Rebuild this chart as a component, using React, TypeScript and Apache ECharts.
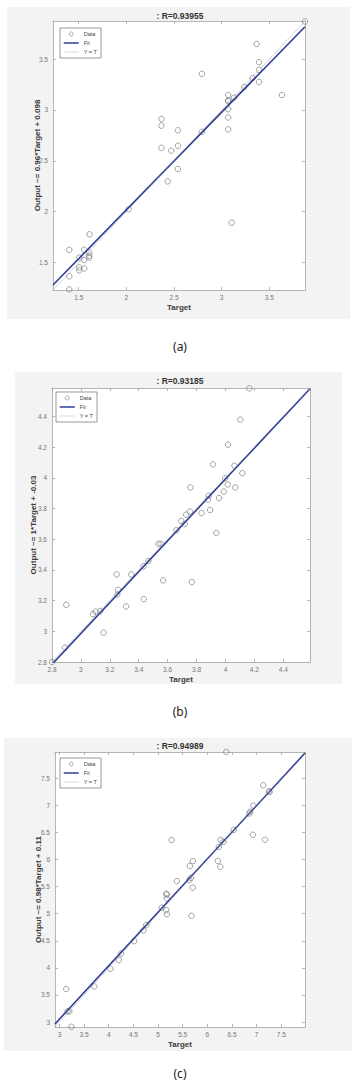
import React, { useEffect, useRef } from "react";
import * as echarts from "echarts";

// ---------- data ----------
const targetA = [3.875, 3.367, 3.392, 3.392, 3.325, 3.392, 3.237, 2.793, 3.633, 3.069, 3.069, 3.069, 3.131, 3.069, 3.069, 3.069, 2.792, 2.368, 2.368, 2.541, 2.368, 2.541, 2.471, 2.541, 2.434, 2.024, 3.105, 1.613, 1.401, 1.558, 1.61, 1.61, 1.61, 1.506, 1.558, 1.506, 1.506, 1.558, 1.401, 1.401];
const outputA = [3.87, 3.65, 3.47, 3.395, 3.314, 3.275, 3.227, 3.356, 3.147, 3.147, 3.095, 3.085, 3.122, 3.008, 2.926, 2.81, 2.786, 2.912, 2.846, 2.8, 2.628, 2.648, 2.6, 2.42, 2.298, 2.024, 1.892, 1.777, 1.625, 1.625, 1.598, 1.566, 1.549, 1.549, 1.525, 1.452, 1.423, 1.442, 1.365, 1.236];

const targetB = [4.165, 4.103, 4.018, 3.914, 4.062, 4.117, 3.998, 4.015, 4.068, 3.758, 3.988, 3.884, 3.956, 3.88, 3.894, 3.755, 3.835, 3.728, 3.694, 3.719, 3.937, 3.661, 3.537, 3.553, 3.467, 3.434, 3.348, 3.247, 3.569, 3.767, 3.257, 3.252, 3.435, 3.313, 2.899, 3.083, 3.102, 3.134, 3.157, 2.89, 2.8];
const outputB = [4.583, 4.379, 4.216, 4.087, 4.078, 4.03, 3.997, 3.957, 3.937, 3.937, 3.91, 3.883, 3.868, 3.858, 3.79, 3.78, 3.77, 3.76, 3.719, 3.699, 3.641, 3.659, 3.57, 3.57, 3.458, 3.424, 3.37, 3.37, 3.332, 3.321, 3.27, 3.24, 3.21, 3.162, 3.172, 3.112, 3.128, 3.132, 2.991, 2.893, 2.8];

const targetC = [6.383, 7.134, 7.25, 7.262, 6.934, 6.87, 6.852, 6.923, 7.17, 6.532, 6.268, 6.328, 6.233, 6.213, 6.262, 5.273, 5.706, 5.645, 5.666, 5.635, 5.381, 5.703, 5.168, 5.178, 5.175, 5.075, 5.168, 5.178, 5.678, 4.76, 4.705, 4.516, 4.25, 4.204, 4.032, 3.707, 3.138, 3.165, 3.2, 3.244];
const outputC = [7.98, 7.366, 7.258, 7.242, 6.99, 6.879, 6.847, 6.454, 6.362, 6.543, 6.36, 6.325, 6.23, 5.972, 5.864, 6.357, 5.969, 5.877, 5.66, 5.62, 5.6, 5.48, 5.366, 5.35, 5.28, 5.11, 5.065, 4.991, 4.96, 4.79, 4.69, 4.494, 4.263, 4.145, 3.983, 3.657, 3.61, 3.198, 3.2, 2.915];

const ticksA = [1.5, 2, 2.5, 3, 3.5];
const ticksB = [2.8, 3, 3.2, 3.4, 3.6, 3.8, 4, 4.2, 4.4];
const ticksC = [3, 3.5, 4, 4.5, 5, 5.5, 6, 6.5, 7, 7.5];

const rangeA = [1.23, 3.875];
const rangeB = [2.8, 4.585];
const rangeC = [2.91, 7.98];

const fitA = [0.96, 0.098];
const fitB = [1.006, -0.032];
const fitC = [0.985, 0.1];

const titles = [": R=0.93955", ": R=0.93185", ": R=0.94989"];
const yNames = [
  "Output ~= 0.96*Target + 0.098",
  "Output ~= 1*Target + -0.03",
  "Output ~= 0.98*Target + 0.11",
];
const xName = "Target";
const captions = ["(a)", "(b)", "(c)"];

// ---------- layout ----------
const panels = [
  { t: targetA, o: outputA, ticks: ticksA, range: rangeA, fit: fitA,
    bg: [7, 7, 343, 312], grid: { left: 53, top: 21, width: 252, height: 269 },
    legend: { left: 60, top: 28 }, titleTop: 11, captionY: 346, yGap: 12 },
  { t: targetB, o: outputB, ticks: ticksB, range: rangeB, fit: fitB,
    bg: [15, 372, 327, 312], grid: { left: 52, top: 388, width: 258, height: 274 },
    legend: { left: 56, top: 392 }, titleTop: 376, captionY: 711, yGap: 15 },
  { t: targetC, o: outputC, ticks: ticksC, range: rangeC, fit: fitC,
    bg: [4, 738, 348, 313], grid: { left: 55, top: 752, width: 250, height: 275 },
    legend: { left: 60, top: 758 }, titleTop: 741, captionY: 1073, yGap: 13 },
];

const FONT = "Liberation Sans, Arial, sans-serif";
const AXIS_COLOR = "#a3a3a3";
const LABEL_COLOR = "#757575";
const FIT_COLOR = "#2e3d98";
const CIRCLE_COLOR = "#6e6e6e";

function buildOption() {
  const grid: any[] = [];
  const xAxis: any[] = [];
  const yAxis: any[] = [];
  const series: any[] = [];
  const legend: any[] = [];
  const title: any[] = [];
  const graphic: any[] = [];

  panels.forEach((p, i) => {
    grid.push({ ...p.grid, show: true, backgroundColor: "#ffffff", borderWidth: 0 });
    const common = {
      type: "value",
      gridIndex: i,
      min: p.range[0],
      max: p.range[1],
      splitLine: { show: false },
      axisLine: { show: true, lineStyle: { color: AXIS_COLOR, width: 0.8 } },
      axisTick: { show: true, inside: true, length: 3, customValues: p.ticks, lineStyle: { color: AXIS_COLOR, width: 0.8 } },
    };
    xAxis.push({
      ...common,
      position: "bottom",
      axisLabel: { customValues: p.ticks, fontSize: 6.5, color: LABEL_COLOR, margin: 4, fontFamily: FONT, formatter: (v: number) => String(v) },
      name: xName,
      nameLocation: "middle",
      nameGap: 13.5,
      nameMoveOverlap: false,
      nameTextStyle: { fontSize: 8, fontWeight: "bold", color: "#3a3a3a", fontFamily: FONT },
    });
    xAxis.push({ ...common, position: "top", axisLabel: { show: false } });
    yAxis.push({
      ...common,
      position: "left",
      axisLabel: { customValues: p.ticks, fontSize: 6.5, color: LABEL_COLOR, margin: 5, fontFamily: FONT, formatter: (v: number) => String(v) },
      name: yNames[i],
      nameLocation: "middle",
      nameGap: p.yGap,
      nameMoveOverlap: false,
      nameRotate: 90,
      nameTextStyle: { fontSize: 8, fontWeight: "bold", color: "#3a3a3a", fontFamily: FONT },
    });
    yAxis.push({ ...common, position: "right", axisLabel: { show: false } });

    const lo = p.range[0];
    const hi = p.range[1];
    series.push({
      type: "line",
      name: "Fit",
      xAxisIndex: 2 * i,
      yAxisIndex: 2 * i,
      symbol: "none",
      data: [[lo, p.fit[0] * lo + p.fit[1]], [hi, p.fit[0] * hi + p.fit[1]]],
      lineStyle: { color: FIT_COLOR, width: 1.6 },
      itemStyle: { color: FIT_COLOR },
      z: 3,
    });
    series.push({
      type: "line",
      name: "Y = T",
      xAxisIndex: 2 * i,
      yAxisIndex: 2 * i,
      symbol: "none",
      data: [[lo, lo], [hi, hi]],
      lineStyle: { color: "#9a9a9a", width: 0.8, type: "dotted" },
      itemStyle: { color: "#9a9a9a" },
      z: 3,
    });
    series.push({
      type: "scatter",
      name: "Data",
      xAxisIndex: 2 * i,
      yAxisIndex: 2 * i,
      symbol: "circle",
      symbolSize: 5.5,
      clip: false,
      data: p.t.map((t, k) => [t, p.o[k]]),
      itemStyle: { color: "rgba(0,0,0,0)", borderColor: CIRCLE_COLOR, borderWidth: 0.8 },
      z: 2,
    });

    legend.push({
      orient: "vertical",
      left: p.legend.left,
      top: p.legend.top,
      data: [
        { name: "Data", icon: "circle", itemStyle: { color: "rgba(0,0,0,0)", borderColor: CIRCLE_COLOR, borderWidth: 0.7 } },
        { name: "Fit", itemStyle: { opacity: 0 }, lineStyle: { color: FIT_COLOR, width: 1.5 } },
        { name: "Y = T", itemStyle: { opacity: 0 }, lineStyle: { color: "#9a9a9a", width: 0.7, type: "dotted" } },
      ],
      selectedMode: false,
      itemWidth: 15,
      itemHeight: 4,
      itemGap: 3,
      padding: [3, 4, 3, 3],
      borderColor: "#555",
      borderWidth: 0.6,
      backgroundColor: "#ffffff",
      textStyle: { fontSize: 5.5, color: "#444", fontFamily: FONT },
    });

    title.push({
      text: titles[i],
      left: "center",
      top: p.titleTop,
      padding: 0,
      textStyle: { fontSize: 8.5, fontWeight: "bold", color: "#333", fontFamily: FONT },
    });

    graphic.push({
      type: "rect",
      z: -10,
      silent: true,
      shape: { x: p.bg[0], y: p.bg[1], width: p.bg[2], height: p.bg[3] },
      style: { fill: "#f3f3f3" },
    });
    graphic.push({
      type: "text",
      x: 180,
      y: p.captionY,
      silent: true,
      style: {
        text: captions[i],
        fill: "#222",
        font: "12px 'Noto Sans', sans-serif",
        textAlign: "center",
        textVerticalAlign: "middle",
      },
    });
  });

  return {
    animation: false,
    backgroundColor: "#ffffff",
    grid,
    xAxis,
    yAxis,
    series,
    legend,
    title,
    graphic,
  };
}

export default function App() {
  const ref = useRef<HTMLDivElement>(null);
  useEffect(() => {
    if (!ref.current) return;
    const chart = echarts.init(ref.current, undefined, { renderer: "svg" });
    chart.setOption(buildOption() as any);
    return () => chart.dispose();
  }, []);
  return (
    <div
      ref={ref}
      style={{ position: "absolute", left: 0, top: 0, width: 360, height: 1083 }}
    />
  );
}
